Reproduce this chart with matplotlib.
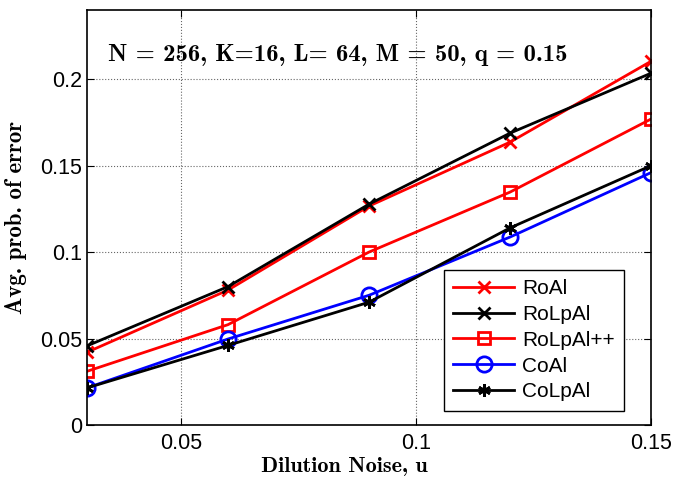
import matplotlib
matplotlib.use("Agg")
from matplotlib import pyplot as plt
from matplotlib.ticker import FuncFormatter

noise = [0.03, 0.06, 0.09, 0.12, 0.15]
roal = [0.042, 0.078, 0.1266, 0.1636, 0.2104]
rolpal = [0.0457, 0.080, 0.1277, 0.1688, 0.2035]
rolpal_pp = [0.031, 0.058, 0.100, 0.1347, 0.177]
coal = [0.0214, 0.0497, 0.075, 0.1087, 0.146]
colpal = [0.0214, 0.046, 0.071, 0.114, 0.150]

series = [
    ("RoAl", roal, "red", "x"),
    ("RoLpAl", rolpal, "black", "x"),
    ("RoLpAl++", rolpal_pp, "red", "s"),
    ("CoAl", coal, "blue", "o"),
    ("CoLpAl", colpal, "black", (6, 2, 0)),
]

plt.rcParams['font.family'] = ['Liberation Sans', 'DejaVu Sans']
serif_bold = dict(family=['cmb10', 'DejaVu Serif'], fontweight='bold')

fig = plt.figure(figsize=(6.84, 4.78), dpi=100)
ax = fig.add_axes([0.127, 0.111, 0.825, 0.868])

for name, vals, col, mk in series:
    ms = 11 if mk == "o" else 9
    ax.plot(noise, vals, color=col, marker=mk, markerfacecolor="none",
            markeredgecolor=col, markersize=ms, markeredgewidth=2,
            linewidth=2, label=name)

ax.set_xlim(0.03, 0.15)
ax.set_ylim(0, 0.24)
ax.set_xticks([0.05, 0.1, 0.15])
ax.set_yticks([0, 0.05, 0.1, 0.15, 0.2])
fmt = FuncFormatter(lambda v, p: f"{v:g}")
ax.xaxis.set_major_formatter(fmt)
ax.yaxis.set_major_formatter(fmt)
ax.tick_params(labelsize=15.5, direction='in', length=5, top=True, right=True)
ax.tick_params(axis='x', pad=6)
ax.grid(True, linestyle=':', color='black', linewidth=0.8, alpha=0.6)
for s in ax.spines.values():
    s.set_linewidth(1.2)

ax.set_xlabel("Dilution Noise, u", fontsize=16, **serif_bold)
ax.set_ylabel("Avg. prob. of error", fontsize=16.5, **serif_bold)
ax.xaxis.set_label_coords(0.456, -0.078)
ax.yaxis.set_label_coords(-0.106, 0.5)
ax.text(0.0345, 0.214, "N = 256, K=16, L= 64, M = 50, q = 0.15",
        fontsize=17.8, va='center', **serif_bold)

leg = ax.legend(loc='lower right', bbox_to_anchor=(0.952, 0.034), fontsize=15,
                fancybox=False, edgecolor='black', framealpha=1,
                handlelength=2.9, handletextpad=0.4, borderpad=0.45,
                labelspacing=0.33, borderaxespad=0)
leg.get_frame().set_linewidth(1.0)

fig.savefig("out.png", dpi=100)
